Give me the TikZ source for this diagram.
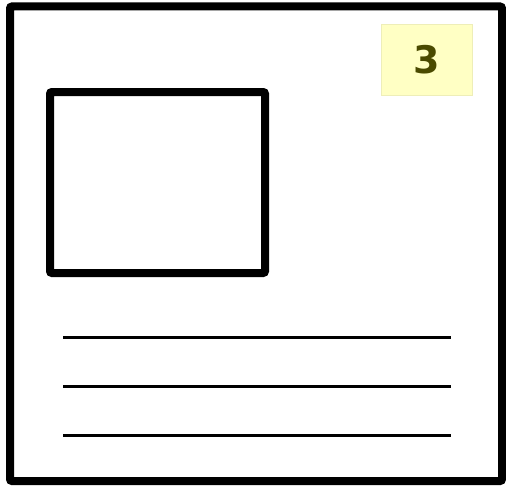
\documentclass[tikz,border=0pt]{standalone}
\usepackage{fontspec}
\setmainfont{DejaVu Sans}
\definecolor{badgefill}{HTML}{FFFFC4}
\definecolor{badgeline}{HTML}{EEEEB8}
\definecolor{badgetext}{HTML}{4A4A00}
\begin{document}
\begin{tikzpicture}[x=1pt,y=-1pt,
  frame/.style={draw=black,line width=8pt,rounded corners=2pt},
  textline/.style={draw=black,line width=3pt},
  badge/.style={fill=badgefill,draw=badgeline,line width=0.8pt,minimum width=91pt,minimum height=71pt,inner sep=0pt,text=badgetext,font=\bfseries\fontsize{38}{38}\selectfont}]
\useasboundingbox (0,0) rectangle (506,487);
\fill[white] (0,0) rectangle (506,487);
\draw[frame] (10,6.5) rectangle (502,481);
\draw[frame] (50,92) rectangle (265,273);
\coordinate (l1a) at (63,337); \coordinate (l1b) at (451,337);
\coordinate (l2a) at (63,386); \coordinate (l2b) at (451,386);
\coordinate (l3a) at (63,435); \coordinate (l3b) at (451,435);
\draw[textline] (l1a) -- (l1b);
\draw[textline] (l2a) -- (l2b);
\draw[textline] (l3a) -- (l3b);
\node[badge] (num) at (426.5,59.5) {3};
\end{tikzpicture}
\end{document}
